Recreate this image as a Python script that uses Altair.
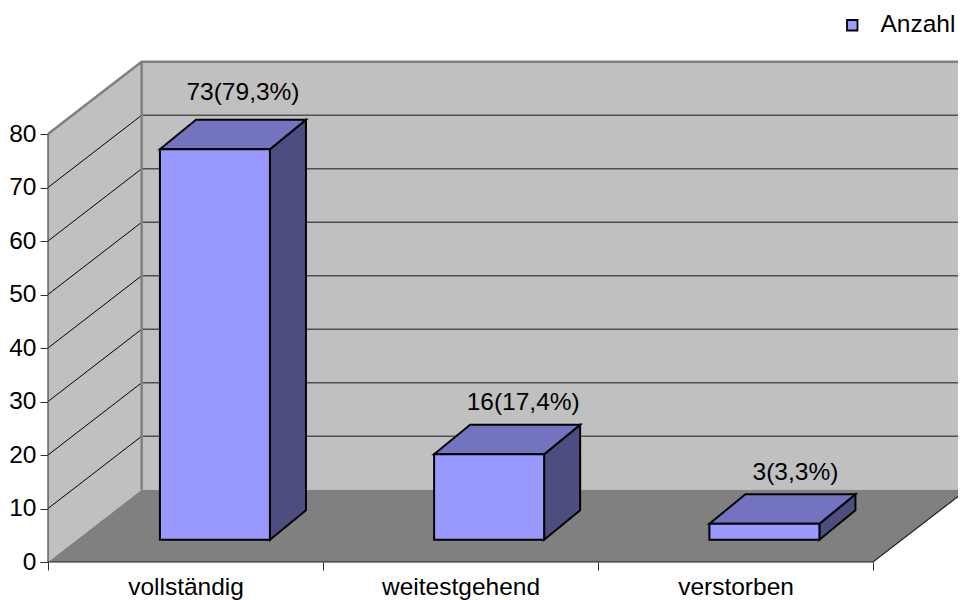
import altair as alt

categories = ["vollständig", "weitestgehend", "verstorben"]
values = [73, 16, 3]
labels = ["73(79,3%)", "16(17,4%)", "3(3,3%)"]
series = "Anzahl"
y_ticks = [0, 10, 20, 30, 40, 50, 60, 70, 80]

# 3-D projection layout, in axis units
DX, DV = 0.3405, 13.5          # chart depth
BAR_L, BAR_W = [0.407, 1.404, 2.405], 0.4
BAR_BASE = 4.15                # bar front sits this far up the floor
BAR_DX, BAR_DV = 0.131, 5.5    # bar depth
LAB_DX = [0.102, 0.124, 0.113]
LAB_DV = [5.0, 4.1, 4.0]
N = len(categories)
FONT = "Liberation Sans"
FS = 24.5

mid_ticks = [i + 0.5 for i in range(N)]
x_vals = sorted(list(range(N + 1)) + mid_ticks)
label_expr = " : ".join(
    f"datum.value == {m} ? '{c}'" for m, c in zip(mid_ticks, categories)
) + " : ''"
axis_x = alt.Axis(
    values=x_vals,
    labelExpr=label_expr,
    title=None,
    grid=False,
    domain=False,
    tickSize=8,
    tickColor="#303030",
    tickOpacity={"condition": {"test": "datum.value % 1 != 0", "value": 0}, "value": 1},
    labelFont=FONT,
    labelFontSize=FS,
    labelColor="#000000",
    labelPadding=5,
    labelOverlap=False,
    labelBound=False,
    labelFlush=False,
)
axis_y = alt.Axis(
    values=y_ticks,
    title=None,
    grid=False,
    domain=False,
    tickSize=8,
    tickColor="#303030",
    labelFont=FONT,
    labelFontSize=FS,
    labelColor="#000000",
    labelPadding=4,
    labelOverlap=False,
    labelBound=False,
    labelFlush=False,
)

sx = alt.Scale(domain=[0, 3.309], nice=False, zero=False)
sy = alt.Scale(domain=[0, 93.46], nice=False, zero=False)
X = alt.X("x:Q", scale=sx, axis=axis_x)
Y = alt.Y("y:Q", scale=sy, axis=axis_y)
X2 = alt.X2("x2:Q")
Y2 = alt.Y2("y2:Q")


def df(rows):
    return alt.Data(values=rows)


# walls and floor
back_wall = alt.Chart(df([{"x": DX, "x2": N + DX, "y": DV, "y2": 80 + DV}])).mark_rect(
    color="#c0c0c0"
).encode(x=X, x2=X2, y=Y, y2=Y2)
left_wall = alt.Chart(
    df([{"x": 0, "y": 0, "y2": 80}, {"x": DX, "y": DV, "y2": 80 + DV}])
).mark_area(color="#c0c0c0", interpolate="linear").encode(x=X, y=Y, y2=Y2)
floor = alt.Chart(
    df([{"y": 0, "x": 0, "x2": N}, {"y": DV, "x": DX, "x2": N + DX}])
).mark_area(color="#808080", orient="horizontal", interpolate="linear").encode(
    y=Y, x=X, x2=X2
)

# grid lines
grid_left_rows, grid_back_rows = [], []
for t in y_ticks[1:-1]:
    grid_left_rows += [{"x": 0, "y": t, "k": t}, {"x": DX, "y": t + DV, "k": t}]
    grid_back_rows += [{"x": DX, "y": t + DV, "k": t}, {"x": N + DX, "y": t + DV, "k": t}]
grid_left = alt.Chart(df(grid_left_rows)).mark_line(color="#000000", strokeWidth=1).encode(
    x=X, y=Y, detail="k:N"
)
grid_back = alt.Chart(df(grid_back_rows)).mark_line(
    color="#505050", strokeWidth=1.5
).encode(x=X, y=Y, detail="k:N")


def polyline(points, color, width):
    rows = [{"x": a, "y": b, "o": i} for i, (a, b) in enumerate(points)]
    return alt.Chart(df(rows)).mark_line(color=color, strokeWidth=width).encode(
        x=X, y=Y, order="o:Q"
    )


frame_top = polyline([(0, 80), (DX, 80 + DV), (N + DX, 80 + DV)], "#808080", 2.5)
frame_corner = polyline([(DX, DV), (DX, 80 + DV)], "#808080", 2.5)
frame_left = polyline([(0, 0), (0, 80)], "#404040", 1.2)
frame_floor = polyline([(0, 0), (N, 0), (N + DX, DV)], "#202020", 1.2)

# bars
front_rows, top_rows, side_rows, lab_rows = [], [], [], []
for i, (c, v) in enumerate(zip(categories, values)):
    l, r = BAR_L[i], BAR_L[i] + BAR_W
    b, t = BAR_BASE, BAR_BASE + v
    front_rows.append({"x": l, "x2": r, "y": b, "y2": t, "s": series})
    top_rows += [
        {"y": t, "x": l, "x2": r, "c": c},
        {"y": t + BAR_DV, "x": l + BAR_DX, "x2": r + BAR_DX, "c": c},
    ]
    side_rows += [
        {"x": r, "y": b, "y2": t, "c": c},
        {"x": r + BAR_DX, "y": b + BAR_DV, "y2": t + BAR_DV, "c": c},
    ]
    lab_rows.append(
        {"x": l + BAR_W / 2 + LAB_DX[i], "y": t + BAR_DV + LAB_DV[i], "t": labels[i]}
    )

bar_front = alt.Chart(df(front_rows)).mark_rect(stroke="#000000", strokeWidth=2).encode(
    x=X, x2=X2, y=Y, y2=Y2,
    color=alt.Color(
        "s:N",
        scale=alt.Scale(domain=[series], range=["#9999ff"]),
        legend=alt.Legend(
            title=None,
            orient="none",
            legendX=792,
            legendY=-49,
            symbolType="square",
            symbolSize=110,
            symbolStrokeColor="#000000",
            symbolStrokeWidth=1.8,
            symbolOpacity=1,
            labelFont=FONT,
            labelFontSize=FS,
            labelColor="#000000",
            labelOffset=16,
        ),
    ),
)
bar_top = alt.Chart(df(top_rows)).mark_area(
    color="#7373bf", stroke="#000000", strokeWidth=2, orient="horizontal", interpolate="linear"
).encode(y=Y, x=X, x2=X2, detail="c:N")
bar_side = alt.Chart(df(side_rows)).mark_area(
    color="#4d4d80", stroke="#000000", strokeWidth=2, interpolate="linear"
).encode(x=X, y=Y, y2=Y2, detail="c:N")
bar_labels = alt.Chart(df(lab_rows)).mark_text(
    font=FONT, fontSize=FS, color="#000000", align="center", baseline="middle"
).encode(x=X, y=Y, text="t:N")

chart = (
    alt.layer(
        back_wall,
        left_wall,
        floor,
        grid_left,
        grid_back,
        frame_top,
        frame_corner,
        frame_left,
        frame_floor,
        bar_side,
        bar_top,
        bar_front,
        bar_labels,
    )
    .properties(
        width=910,
        height=500,
        padding={"left": 40, "top": 54, "right": 0, "bottom": 38},
        autosize=alt.AutoSizeParams(type="none"),
        background="#ffffff",
    )
    .configure_view(stroke=None)
)

chart.save("out.html", embed_options={"renderer": "svg", "actions": False})
